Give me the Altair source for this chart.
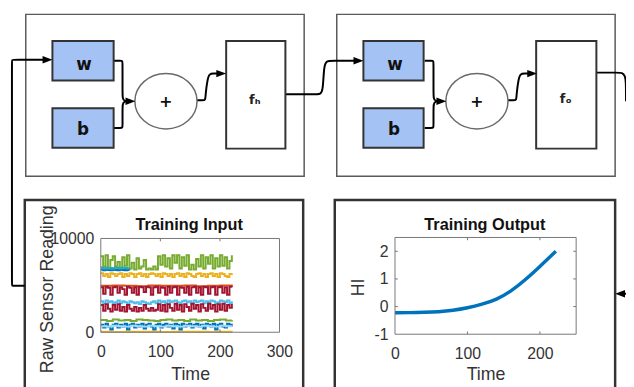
import altair as alt
import pandas as pd

# ---------------- Training Input: raw sensor readings ----------------
STEP_FINE = 4      # time step of the dense traces
STEP_MID = 10
STEP_SPARSE = 20

sensor_green = [8100, 7000, 8200, 6800, 7700, 8100, 7000, 7500, 6700, 8000,
                7100, 8200, 6800, 7400, 6700, 7900, 6800, 7000, 7700, 6700,
                6800, 6700, 7000, 6700, 8100, 7200, 8200, 7000, 7900, 6800,
                8200, 7400, 8200, 6800, 8000, 7100, 8200, 6700, 7200, 6700,
                7800, 7000, 8200, 6800, 8000, 7300, 8200, 6800, 7900, 7000,
                8200, 7100, 8000, 6800, 7600, 8200]
sensor_teal_early = [6900, 6800, 6900, 6800, 6850, 6800, 6900, 6850, 6800, 6900, 6850, 6800, 6800]
sensor_blue_early = [6700, 6600, 6700, 6650, 6600, 6700, 6650, 6600, 6700, 6650, 6600, 6650, 6600]
sensor_yellow = [6300, 6000, 6200, 5900, 6300, 6200, 6000, 6200, 6300, 5900,
                 6200, 6000, 6300, 6200, 5900, 6200, 6300, 6000, 6200, 5900,
                 6200, 6300, 6200, 6000, 6200, 5900, 6300, 6200, 6000, 6200,
                 5900, 6200, 6300, 6000, 6200, 5900, 6300, 6200, 6000, 5900,
                 6200, 6300, 6000, 6200, 5900, 6200, 6300, 6000, 6200, 5900,
                 6300, 6200, 6000, 5900, 6200, 6300]
sensor_orange_mid = [4950, 5000, 4950, 4900, 5000, 4950, 4950, 5000, 4900, 4950, 5000, 4950]
sensor_red_high = [4800, 4100, 4850, 4750, 4000, 4800, 4850, 4200, 4800, 4600,
                   4000, 4850, 4750, 4200, 4800, 4000, 4850, 4800, 4300, 4850,
                   4800, 4000, 4800, 4850, 4200, 4800, 4750, 4000, 4850, 4200,
                   4800, 4850, 4000, 4800, 4750, 4200, 4850, 4000, 4800, 4850,
                   4200, 4800, 4000, 4850, 4800, 4100, 4800, 4850, 4000, 4800,
                   4850, 4200, 4800, 4000, 4850, 4800]
sensor_lightblue = [3300, 3100, 3400, 3200, 3300, 3100, 3200, 3400, 3100, 3300,
                    3200, 3000, 3300, 3200, 3100, 3200, 3000, 3300, 3200, 3100,
                    3000, 3200, 3300, 3100, 3400, 3200, 3300, 3100, 3400, 3200,
                    3300, 3400, 3200, 3100, 3300, 3400, 3200, 3300, 3100, 3400,
                    3200, 3300, 3400, 3100, 3300, 3200, 3400, 3300, 3100, 3200,
                    3400, 3300, 3200, 3400, 3100, 3300]
sensor_red_low = [2900, 2300, 3000, 2500, 2200, 2900, 2400, 3000, 2300, 2700,
                  2200, 2900, 2500, 2300, 2700, 2200, 2600, 2300, 2900, 2500,
                  2300, 2600, 2300, 2400, 3000, 2300, 2900, 2200, 3000, 2600,
                  2300, 3050, 2400, 2900, 2200, 3000, 2700, 2300, 3050, 2500,
                  2900, 2200, 3000, 2600, 2300, 3050, 2500, 2900, 2200, 3000,
                  2400, 3050, 2300, 2900, 2600, 3000]
sensor_green_low = [1300, 1200, 1350, 1250, 1300, 1200, 1350, 1300, 1250, 1200, 1300, 1350,
                    1250, 1300, 1200, 1350, 1250, 1300, 1200, 1300, 1350, 1250, 1300]
sensor_blue_low = [800, 500, 900, 600, 300, 800, 900, 500, 800, 600,
                   900, 300, 800, 900, 500, 800, 600, 900, 400, 800,
                   900, 600, 300, 800, 900, 500, 800, 900, 600, 800,
                   400, 900, 800, 300, 900, 600, 800, 900, 500, 800,
                   900, 600, 800, 400, 900, 800, 600, 900, 300, 800,
                   900, 600, 500, 900, 800, 600]
sensor_cyan_low = [650, 600, 700, 650, 600, 700, 650, 600, 700, 650, 600, 700,
                   650, 600, 700, 650, 600, 700, 650, 600, 700, 650, 600]
sensor_yellow_floor = [60, 40, 60, 50, 60, 40, 60, 50, 60, 40, 60, 50]

# ---------------- Training Output: health indicator ----------------
out_time = [0, 20, 40, 60, 80, 100, 120, 140, 160, 180, 200, 222]
out_hi = [-0.22, -0.22, -0.21, -0.19, -0.14, -0.05, 0.08, 0.25, 0.55, 0.97, 1.45, 2.00]

in_x_ticks = [0, 100, 200, 300]
in_y_ticks = [0, 10000]
out_x_ticks = [0, 100, 200]
out_y_ticks = [-1, 0, 1, 2]

# ---------------- styles ----------------
FONT = "Liberation Sans"
SYM_FONT = "DejaVu Sans"
INK = "#333333"
PARAM_FILL = "#a4c2f4"

# draw order (back to front) and colours of the sensor traces
series_defs = [
    ("s00", sensor_yellow_floor, STEP_SPARSE, "#EDB120"),
    ("s01", sensor_blue_low, STEP_FINE, "#0072BD"),
    ("s02", sensor_cyan_low, STEP_MID, "#9fdcf5"),
    ("s03", sensor_green_low, STEP_MID, "#77AC30"),
    ("s04", sensor_lightblue, STEP_FINE, "#4DBEEE"),
    ("s05", sensor_red_low, STEP_FINE, "#A2142F"),
    ("s06", sensor_orange_mid, STEP_SPARSE, "#D95319"),
    ("s07", sensor_red_high, STEP_FINE, "#A2142F"),
    ("s08", sensor_yellow, STEP_FINE, "#EDB120"),
    ("s09", sensor_green, STEP_FINE, "#77AC30"),
    ("s10", sensor_blue_early, STEP_FINE, "#0072BD"),
    ("s11", sensor_teal_early, STEP_FINE, "#2aa9b0"),
]
rows = []
for key, vals, step, _ in series_defs:
    for i, v in enumerate(vals):
        rows.append({"s": key, "t": i * step, "v": v})
in_df = pd.DataFrame(rows)
out_df = pd.DataFrame({"t": out_time, "hi": out_hi})

# ---------------- canvas (reference pixels; page margin is 8px) ----------------
W, H = 626, 379
M = 8
PX = alt.Scale(domain=[M, M + W], range=[0, W], nice=False, zero=False)
PY = alt.Scale(domain=[M, M + H], range=[0, H], nice=False, zero=False)


def pxx(f="x"):
    return alt.X(f"{f}:Q", scale=PX, axis=None)


def pxy(f="y"):
    return alt.Y(f"{f}:Q", scale=PY, axis=None)


def rect_df(boxes):
    return pd.DataFrame(boxes, columns=["x", "y", "x2", "y2"])


SHIFT = 315  # second neuron block is a copy of the first, shifted right
layer_frames = rect_df([(26, 12, 308, 176), (341, 12, 623, 176)])
plot_frames = rect_df([(25, 200, 307, 400), (339, 200, 623, 400)])
param_boxes = rect_df([(53, 39, 115, 79), (53, 107, 115, 147),
                       (368, 39, 429, 79), (368, 107, 429, 147)])
func_boxes = rect_df([(229, 39, 289, 148), (543, 39, 604, 148)])
sum_nodes = pd.DataFrame({"x": [168, 168 + SHIFT], "y": [100, 100]})

block_paths = {
    "w": [(115, 59), (122, 59), (124, 59), (124, 62), (124, 88), (124, 98), (126, 100), (131, 100)],
    "b": [(115, 127), (122, 127), (124, 127), (124, 124), (124, 112), (124, 102), (126, 100), (131, 100)],
    "s": [(199, 99), (205, 99), (208, 99), (208, 94), (210, 78), (212, 72), (216, 72), (223, 72)],
}
paths = {
    "feedback": [(25, 287), (14, 287), (12, 287), (12, 285), (12, 60), (12, 58), (14, 58), (47, 58)],
    "hidden": [(289, 93), (318, 93), (325, 93), (327, 88), (328, 66), (330, 59), (336, 59), (361, 59)],
    "out": [(604, 71), (626, 71), (630, 71), (633, 74), (634, 80), (634, 100)],
    "back": [(636, 295), (629, 295)],
}
for k, pts in block_paths.items():
    paths[k + "1"] = pts
    paths[k + "2"] = [(x + SHIFT, y) for x, y in pts]
prow = []
for k, pts in paths.items():
    for i, (x, y) in enumerate(pts):
        prow.append({"p": k, "o": i, "x": x, "y": y})
path_df = pd.DataFrame(prow)

arrows_r = pd.DataFrame({"x": [48, 132, 224, 363, 132 + SHIFT, 224 + SHIFT],
                         "y": [58, 100, 72, 59, 100, 72]})
arrows_l = pd.DataFrame({"x": [628], "y": [295]})

ELLIPSE = ("M-1,0C-1,-0.4915,-0.5523,-0.89,0,-0.89C0.5523,-0.89,1,-0.4915,1,0"
           "C1,0.4915,0.5523,0.89,0,0.89C-0.5523,0.89,-1,0.4915,-1,0Z")
ARROW_R = "M-1,-0.75L1,0L-1,0.75Z"
ARROW_L = "M1,-0.75L-1,0L1,0.75Z"

param_labels = pd.DataFrame({"x": [85, 84, 85 + SHIFT, 84 + SHIFT], "y": [63, 129, 63, 129],
                             "label": ["w", "b", "w", "b"]})
sum_labels = pd.DataFrame({"x": [168, 168 + SHIFT], "y": [101, 101], "label": ["+", "+"]})
func_labels = pd.DataFrame({"x": [258, 573], "y": [99, 98], "label": ["fₕ", "fₒ"]})
plot_titles = pd.DataFrame({"x": [191.5, 491], "y": [230, 230],
                            "label": ["Training Input", "Training Output"]})

enc_rect = dict(x=pxx("x"), x2="x2:Q", y=pxy("y"), y2="y2:Q")
diagram = [
    alt.Chart(layer_frames).mark_rect(fillOpacity=0, stroke="#5a5a5a", strokeWidth=1.5).encode(**enc_rect),
    alt.Chart(plot_frames).mark_rect(fillOpacity=0, stroke=INK, strokeWidth=2.5).encode(**enc_rect),
    alt.Chart(path_df).mark_line(color="black", strokeWidth=2, interpolate="basis").encode(
        x=pxx("x"), y=pxy("y"), detail="p:N", order="o:Q"),
    alt.Chart(param_boxes).mark_rect(fill=PARAM_FILL, stroke=INK, strokeWidth=2).encode(**enc_rect),
    alt.Chart(func_boxes).mark_rect(fill="white", stroke=INK, strokeWidth=2).encode(**enc_rect),
    alt.Chart(sum_nodes).mark_point(shape=ELLIPSE, size=63 ** 2, filled=True, fill="white",
                                    stroke="#6a6a6a", strokeWidth=1.5, opacity=1).encode(x=pxx(), y=pxy()),
    alt.Chart(arrows_r).mark_point(shape=ARROW_R, size=100, filled=True, color="black",
                                   opacity=1).encode(x=pxx(), y=pxy()),
    alt.Chart(arrows_l).mark_point(shape=ARROW_L, size=100, filled=True, color="black",
                                   opacity=1).encode(x=pxx(), y=pxy()),
    alt.Chart(param_labels).mark_text(font=SYM_FONT, fontSize=17, fontWeight="bold", color="#111",
                                      baseline="middle").encode(x=pxx(), y=pxy(), text="label:N"),
    alt.Chart(sum_labels).mark_text(font=SYM_FONT, fontSize=16, fontWeight="bold", color="#111",
                                    baseline="middle").encode(x=pxx(), y=pxy(), text="label:N"),
    alt.Chart(func_labels).mark_text(font=SYM_FONT, fontSize=13, fontWeight="bold", color="#222",
                                     baseline="middle").encode(x=pxx(), y=pxy(), text="label:N"),
    alt.Chart(plot_titles).mark_text(font=FONT, fontSize=16.5, fontWeight="bold", color="#111",
                                     baseline="alphabetic").encode(x=pxx(), y=pxy(), text="label:N"),
]


# ---------------- embedded MATLAB-style plots ----------------
def axis(**kw):
    return alt.Axis(grid=False, domain=False, ticks=False, labelFont=FONT,
                    labelFontSize=16, labelColor=INK, titleFont=FONT, titleFontSize=18,
                    titleFontWeight="normal", titleColor=INK, labelFlush=False,
                    labelExpr="replace(datum.label, '\u2212', '-')", **kw)


# Training Input plot area: reference x 102..283, y 239..334
IN_X = alt.Scale(domain=[0, 300], range=[102 - M, 283 - M], nice=False, zero=False)
IN_Y = alt.Scale(domain=[0, 10000], range=[334 - M, 239 - M], nice=False, zero=False)
in_x_axis = axis(orient="bottom", offset=-(H - (334 - M)), values=in_x_ticks, labelPadding=12,
                 title="Time", titleY=48, titleBaseline="alphabetic")
in_y_axis = axis(orient="left", offset=-(102 - M), values=in_y_ticks, format="d", labelPadding=7,
                 title="Raw Sensor Reading", titleX=-54, titleY=290 - M, titleBaseline="middle")

IN_TICK = 300
in_tick_rows = []
for t in in_x_ticks[1:-1]:
    in_tick_rows += [{"t": t, "t2": t, "v": 0, "v2": IN_TICK},
                     {"t": t, "t2": t, "v": 10000, "v2": 10000 - IN_TICK}]
in_tick_df = pd.DataFrame(in_tick_rows)
in_frame_df = pd.DataFrame({"t": [0], "t2": [300], "v": [0], "v2": [10000]})

input_plot = [
    alt.Chart(in_df).mark_line(strokeWidth=2, interpolate="step-after").encode(
        x=alt.X("t:Q", scale=IN_X, axis=in_x_axis),
        y=alt.Y("v:Q", scale=IN_Y, axis=in_y_axis),
        color=alt.Color("s:N", scale=alt.Scale(domain=[d[0] for d in series_defs],
                                               range=[d[3] for d in series_defs]), legend=None),
    ),
    alt.Chart(in_frame_df).mark_rect(fillOpacity=0, stroke="#777", strokeWidth=1).encode(
        x=alt.X("t:Q", scale=IN_X, axis=None), x2="t2:Q",
        y=alt.Y("v:Q", scale=IN_Y, axis=None), y2="v2:Q"),
    alt.Chart(in_tick_df).mark_rule(color="#777", strokeWidth=1).encode(
        x=alt.X("t:Q", scale=IN_X, axis=None), x2="t2:Q",
        y=alt.Y("v:Q", scale=IN_Y, axis=None), y2="v2:Q"),
]

# Training Output plot area: reference x 400..583.5, y 238..336
OUT_X = alt.Scale(domain=[0, 250], range=[400 - M, 583.5 - M], nice=False, zero=False)
OUT_Y = alt.Scale(domain=[-1, 2.5], range=[336 - M, 238 - M], nice=False, zero=False)
out_x_axis = axis(orient="bottom", offset=-(H - (336 - M)), values=out_x_ticks, labelPadding=12,
                  title="Time", titleY=46, titleBaseline="alphabetic")
out_y_axis = axis(orient="left", offset=-(400 - M), values=out_y_ticks, labelPadding=7,
                  title="HI", titleX=-37, titleY=288 - M, titleBaseline="middle")

OUT_TICK_V, OUT_TICK_T = 0.1, 4
out_tick_rows = []
for t in out_x_ticks[1:]:
    out_tick_rows += [{"t": t, "t2": t, "v": -1, "v2": -1 + OUT_TICK_V},
                      {"t": t, "t2": t, "v": 2.5, "v2": 2.5 - OUT_TICK_V}]
for v in out_y_ticks[1:]:
    out_tick_rows += [{"t": 0, "t2": OUT_TICK_T, "v": v, "v2": v},
                      {"t": 250, "t2": 250 - OUT_TICK_T, "v": v, "v2": v}]
out_tick_df = pd.DataFrame(out_tick_rows)
out_frame_df = pd.DataFrame({"t": [0], "t2": [250], "v": [-1], "v2": [2.5]})

output_plot = [
    alt.Chart(out_df).mark_line(color="#0072BD", strokeWidth=3.5, interpolate="basis").encode(
        x=alt.X("t:Q", scale=OUT_X, axis=out_x_axis),
        y=alt.Y("hi:Q", scale=OUT_Y, axis=out_y_axis),
    ),
    alt.Chart(out_frame_df).mark_rect(fillOpacity=0, stroke="#777", strokeWidth=1).encode(
        x=alt.X("t:Q", scale=OUT_X, axis=None), x2="t2:Q",
        y=alt.Y("v:Q", scale=OUT_Y, axis=None), y2="v2:Q"),
    alt.Chart(out_tick_df).mark_rule(color="#777", strokeWidth=1).encode(
        x=alt.X("t:Q", scale=OUT_X, axis=None), x2="t2:Q",
        y=alt.Y("v:Q", scale=OUT_Y, axis=None), y2="v2:Q"),
]

# every layer has explicit domains and ranges, so independent scales still line up
chart = alt.layer(*diagram, *input_plot, *output_plot).resolve_scale(
    x="independent", y="independent", color="independent"
).properties(
    width=W, height=H, padding=0, background="white",
    autosize=alt.AutoSizeParams(type="none"),
).configure_view(strokeWidth=0)

chart.save("out.html", embed_options={"renderer": "svg", "actions": False})
